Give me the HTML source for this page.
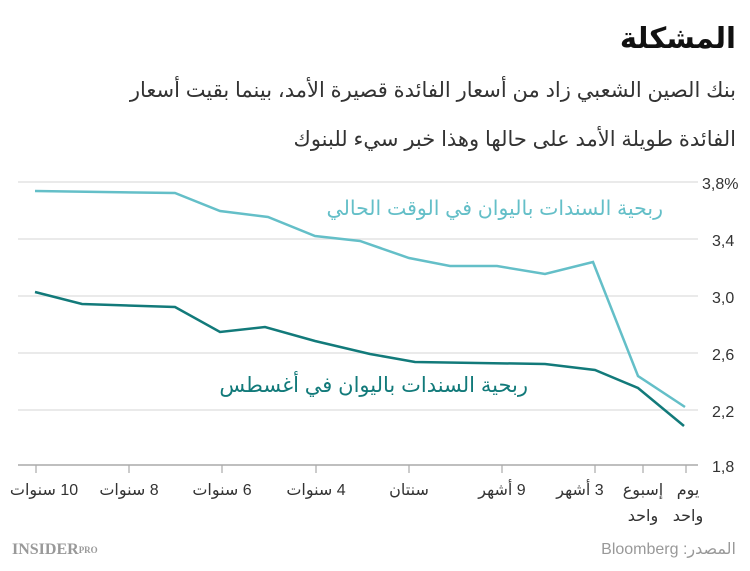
<!DOCTYPE html>
<html><head><meta charset="utf-8"><style>
body{margin:0;width:750px;height:566px;background:#fff;overflow:hidden;font-family:"Liberation Sans","Noto Sans CJK SC",sans-serif}
</style></head><body>
<svg width="750" height="566" xmlns="http://www.w3.org/2000/svg" font-family="Liberation Sans, DejaVu Sans, sans-serif">
<text x="736" y="48" text-anchor="start" font-size="29" font-weight="bold" fill="#111" direction="rtl">المشكلة</text>
<text x="736" y="97" text-anchor="start" font-size="21" fill="#333" direction="rtl">بنك الصين الشعبي زاد من أسعار الفائدة قصيرة الأمد، بينما بقيت أسعار</text>
<text x="736" y="146" text-anchor="start" font-size="21" fill="#333" direction="rtl">الفائدة طويلة الأمد على حالها وهذا خبر سيء للبنوك</text>
<g stroke="#e3e3e3" stroke-width="1.5">
<line x1="18" y1="182" x2="698" y2="182"/><line x1="18" y1="239" x2="698" y2="239"/>
<line x1="18" y1="296" x2="698" y2="296"/><line x1="18" y1="353" x2="698" y2="353"/>
<line x1="18" y1="410" x2="698" y2="410"/>
</g>
<line x1="18" y1="465" x2="698" y2="465" stroke="#aaa" stroke-width="1.5"/>
<g stroke="#aaa" stroke-width="1.2">
<line x1="36" y1="465" x2="36" y2="473"/><line x1="129" y1="465" x2="129" y2="473"/><line x1="222" y1="465" x2="222" y2="473"/><line x1="316" y1="465" x2="316" y2="473"/><line x1="409" y1="465" x2="409" y2="473"/><line x1="502" y1="465" x2="502" y2="473"/><line x1="595" y1="465" x2="595" y2="473"/><line x1="643" y1="465" x2="643" y2="473"/><line x1="686" y1="465" x2="686" y2="473"/>
</g>
<g font-size="16" fill="#333">
<text x="702" y="189">3,8%</text><text x="712" y="246">3,4</text><text x="712" y="303">3,0</text><text x="712" y="360">2,6</text><text x="712" y="417">2,2</text><text x="712" y="472">1,8</text>
</g>
<g font-size="16" fill="#333" text-anchor="middle" direction="rtl">
<text x="44" y="495">10 سنوات</text><text x="129" y="495">8 سنوات</text><text x="222" y="495">6 سنوات</text><text x="316" y="495">4 سنوات</text><text x="409" y="495">سنتان</text><text x="502" y="495">9 أشهر</text><text x="580" y="495">3 أشهر</text><text x="643" y="495">إسبوع</text><text x="643" y="521">واحد</text><text x="688" y="495">يوم</text><text x="688" y="521">واحد</text>
</g>
<polyline fill="none" stroke="#64bfc8" stroke-width="2.5" points="35,191 175,193 220,211 268,217 315,236 360,241 409,258 450,266 497,266 545,274 593,262 638,376 685,407"/>
<polyline fill="none" stroke="#127a7a" stroke-width="2.5" points="35,292 82,304 175,307 220,332 265,327 315,341 370,354 415,362 545,364 595,370 638,388 684,426"/>
<text x="663" y="215" text-anchor="start" font-size="20.5" fill="#64bfc8" direction="rtl">ربحية السندات باليوان في الوقت الحالي</text>
<text x="528" y="392" text-anchor="start" font-size="21" fill="#127a7a" direction="rtl">ربحية السندات باليوان في أغسطس</text>
<text x="12" y="554" font-size="16" font-weight="bold" fill="#999" font-family="Liberation Serif, serif">INSIDER<tspan font-size="9" dy="-1">PRO</tspan></text>
<text x="736" y="554" text-anchor="start" font-size="16" fill="#999" direction="rtl">المصدر: Bloomberg</text>
</svg>
</body></html>
